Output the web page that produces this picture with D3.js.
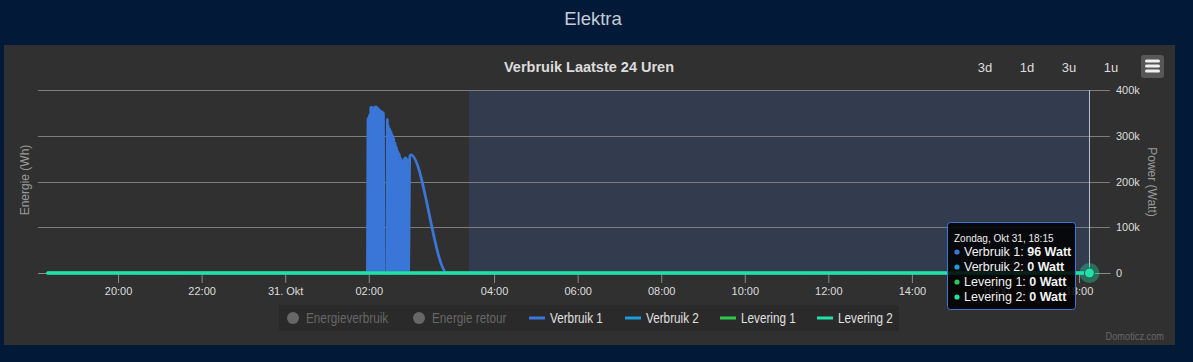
<!DOCTYPE html>
<html><head><meta charset="utf-8">
<script src="https://cdn.jsdelivr.net/npm/d3@7"></script>
<style>
html,body{margin:0;padding:0;background:#021938;}
svg{display:block;font-family:"Liberation Sans",Arial,sans-serif;}
</style></head><body>
<svg id="chart" width="1193" height="362"></svg>
<script>
// ---------- data ----------
const pageTitle = "Elektra";
const chartTitle = "Verbruik Laatste 24 Uren";
const rangeButtons = ["3d", "1d", "3u", "1u"];
const leftAxisTitle = "Energie (Wh)";
const rightAxisTitle = "Power (Watt)";
const credits = "Domoticz.com";

const xDomain = ["2021-10-30T16:05:00Z", "2021-10-31T17:44:30Z"];
const xTickTimes = ["2021-10-30T18:00:00Z", "2021-10-30T20:00:00Z", "2021-10-30T22:00:00Z",
  "2021-10-31T00:00:00Z", "2021-10-31T03:00:00Z", "2021-10-31T05:00:00Z", "2021-10-31T07:00:00Z",
  "2021-10-31T09:00:00Z", "2021-10-31T11:00:00Z", "2021-10-31T13:00:00Z", "2021-10-31T15:00:00Z",
  "2021-10-31T17:00:00Z"];
const xTickLabels = ["20:00", "22:00", "31. Okt", "02:00", "04:00", "06:00", "08:00",
  "10:00", "12:00", "14:00", "16:00", "18:00"];

const yTickValues = [0, 100000, 200000, 300000, 400000];
const yTickLabels = ["0", "100k", "200k", "300k", "400k"];

const hiddenSeries = ["Energieverbruik", "Energie retour"];
const seriesNames = ["Verbruik 1", "Verbruik 2", "Levering 1", "Levering 2"];
const seriesColors = ["#3a76d8", "#1c9ddb", "#2ccb4f", "#1fe2a8"];

// time in minutes relative to 2021-10-31 00:00 UTC, value in Watt
const baseTime = "2021-10-31T00:00:00Z";
const verbruik1 = [
  [-461, 110], [-2, 0],
  [-1, 338000], [0, 0], [1, 345000], [2, 0], [3, 362000], [4, 0], [5, 362000], [6, 0],
  [7, 358000], [8, 0], [9, 363000], [10, 0], [11, 363000], [12, 0], [13, 360000], [14, 0],
  [15, 357000], [16, 0], [17, 354000], [18, 0], [19, 352000], [20, 0], [21, 350000],
  [21.7, 0], [26, 0],
  [26.7, 336000], [27.5, 0], [28, 322000], [29, 0], [30, 315000], [31, 0], [32, 309000], [33, 0],
  [34, 302000], [35, 0], [36, 294000], [37, 0], [38, 284000], [39, 0], [40, 275000], [41, 0],
  [42, 266000], [43, 0], [44, 260000], [45, 0], [46, 251000], [47, 0], [48, 241000], [49, 0],
  [50, 248000], [51, 0], [52, 252000], [53, 0], [54, 251000], [55, 0], [56, 247000], [57, 0],
  [59, 256000], [60.5, 258000], [113, 0], [1035, 96]
];
const verbruik2 = [[-461, 0], [1035, 0]];
const levering1 = [[-461, 0], [1035, 0]];
const levering2 = [[-461, 0], [1035, 0]];

const plotBandMinutes = [144, 1035];
const hoverMinute = 1035;
const tooltipHeader = "Zondag, Okt 31, 18:15";
const tooltipValues = ["96 Watt", "0 Watt", "0 Watt", "0 Watt"];

// ---------- drawing ----------
const svg = d3.select("#chart");
const plot = {left: 38, right: 1110, top: 90, bottom: 273};
const base = new Date(baseTime).getTime();
const toDate = m => new Date(base + m * 60000);

const x = d3.scaleUtc().domain(xDomain.map(d => new Date(d))).range([plot.left, plot.right]);
const y = d3.scaleLinear().domain([0, 400000]).range([plot.bottom, plot.top]);

// page title
svg.append("text").attr("x", 593).attr("y", 25).attr("text-anchor", "middle")
  .attr("fill", "#c4ccd8").style("font-size", "18.5px").text(pageTitle);

// panel
svg.append("rect").attr("x", 4).attr("y", 45).attr("width", 1171).attr("height", 300).attr("fill", "#303030");

// chart title
svg.append("text").attr("x", 589).attr("y", 72).attr("text-anchor", "middle")
  .attr("fill", "#dcdcdc").style("font-size", "14.5px").style("font-weight", "bold").text(chartTitle);

// range buttons
const btnX = [985, 1027, 1069, 1111];
rangeButtons.forEach((b, i) => {
  svg.append("text").attr("x", btnX[i]).attr("y", 72).attr("text-anchor", "middle")
    .attr("fill", "#dddddd").style("font-size", "13px").text(b);
});
// menu button
svg.append("rect").attr("x", 1141).attr("y", 55).attr("width", 23).attr("height", 23).attr("rx", 3).attr("fill", "#575757");
[61, 66, 71].forEach(yy => {
  svg.append("rect").attr("x", 1145).attr("y", yy - 1.5).attr("width", 15).attr("height", 3).attr("rx", 1.5).attr("fill", "#f0f0f0");
});

// plot band
svg.append("rect")
  .attr("x", x(toDate(plotBandMinutes[0]))).attr("y", plot.top)
  .attr("width", x(toDate(plotBandMinutes[1])) - x(toDate(plotBandMinutes[0])))
  .attr("height", plot.bottom - plot.top).attr("fill", "#333b4f");

// gridlines
svg.append("g").selectAll("line").data(yTickValues).join("line")
  .attr("x1", plot.left).attr("x2", plot.right)
  .attr("y1", d => Math.round(y(d)) + 0.5).attr("y2", d => Math.round(y(d)) + 0.5)
  .attr("stroke", "#7c7c7c").attr("stroke-width", 1);

// right axis labels
const yAxis = d3.axisRight(y).tickValues(yTickValues).tickFormat((d, i) => yTickLabels[i]).tickSize(0).tickPadding(6);
const gy = svg.append("g").attr("transform", `translate(${plot.right},0)`).call(yAxis);
gy.select(".domain").remove();
gy.selectAll("text").attr("fill", "#dddddd").style("font-size", "11px").style("font-family", "Liberation Sans, Arial");

// x axis
const xAxis = d3.axisBottom(x).tickValues(xTickTimes.map(d => new Date(d)))
  .tickFormat((d, i) => xTickLabels[i]).tickSize(10).tickSizeOuter(0).tickPadding(4);
const gx = svg.append("g").attr("transform", `translate(0,${plot.bottom})`).call(xAxis);
gx.select(".domain").attr("stroke", "#8a8a8a");
gx.selectAll(".tick line").attr("stroke", "#8a8a8a");
gx.selectAll("text").attr("fill", "#dddddd").style("font-size", "11px").style("font-family", "Liberation Sans, Arial");

// axis titles
svg.append("text").attr("transform", "translate(29,180) rotate(-90)").attr("text-anchor", "middle")
  .attr("fill", "#9a9a9a").style("font-size", "12px").text(leftAxisTitle);
svg.append("text").attr("transform", "translate(1148,182) rotate(90)").attr("text-anchor", "middle")
  .attr("fill", "#9a9a9a").style("font-size", "12px").text(rightAxisTitle);

// series
const line = d3.line().x(d => x(toDate(d[0]))).y(d => y(d[1])).curve(d3.curveMonotoneX);
[verbruik1, verbruik2, levering1, levering2].forEach((data, i) => {
  svg.append("path").datum(data).attr("d", line).attr("fill", "none")
    .attr("stroke", seriesColors[i]).attr("stroke-width", i === 0 ? 2.8 : 3)
    .attr("stroke-linejoin", "round").attr("stroke-linecap", "round");
});

// crosshair
const hx = Math.round(x(toDate(hoverMinute))) + 0.5;
svg.append("line").attr("x1", hx).attr("x2", hx).attr("y1", plot.top).attr("y2", plot.bottom)
  .attr("stroke", "#b4bfd8").attr("stroke-width", 1);

// hover marker
svg.append("circle").attr("cx", x(toDate(hoverMinute))).attr("cy", y(0)).attr("r", 10)
  .attr("fill", seriesColors[3]).attr("opacity", 0.35);
svg.append("circle").attr("cx", x(toDate(hoverMinute))).attr("cy", y(0)).attr("r", 5)
  .attr("fill", seriesColors[3]).attr("stroke", "#2a5a50").attr("stroke-width", 1);

// legend (condensed look via horizontal scale)
const lg = svg.append("g").style("font-size", "14px");
lg.append("rect").attr("x", 279).attr("y", 305).attr("width", 620).attr("height", 26).attr("fill", "#2a2a2a");
const legendX = [285, 411, 529, 625, 720, 817];
const legendY = 318;
const squeeze = 0.84;
hiddenSeries.forEach((n, i) => {
  lg.append("circle").attr("cx", legendX[i] + 8).attr("cy", legendY).attr("r", 6).attr("fill", "#676767");
  lg.append("text").attr("transform", `translate(${legendX[i] + 21},${legendY + 5}) scale(${squeeze},1)`)
    .attr("fill", "#676767").text(n);
});
seriesNames.forEach((n, i) => {
  const lx = legendX[i + 2];
  lg.append("line").attr("x1", lx).attr("x2", lx + 16).attr("y1", legendY).attr("y2", legendY)
    .attr("stroke", seriesColors[i]).attr("stroke-width", 3);
  lg.append("text").attr("transform", `translate(${lx + 21},${legendY + 5}) scale(${squeeze},1)`)
    .attr("fill", "#e0e0e0").text(n);
});

// credits
svg.append("text").attr("transform", `translate(1164,340) scale(${squeeze},1)`).attr("text-anchor", "end")
  .attr("fill", "#686868").style("font-size", "11px").text(credits);

// tooltip
const tt = svg.append("g").attr("transform", "translate(947,222)");
tt.append("rect").attr("x", 0.5).attr("y", 0.5).attr("width", 128).attr("height", 87).attr("rx", 3)
  .attr("fill", "rgba(0,0,0,0.86)").attr("stroke", seriesColors[0]).attr("stroke-width", 1);
tt.append("text").attr("x", 7).attr("y", 20).attr("fill", "#eeeeee").style("font-size", "10px").text(tooltipHeader);
seriesNames.forEach((n, i) => {
  const ry = 34 + i * 15;
  tt.append("circle").attr("cx", 10).attr("cy", ry - 4).attr("r", 2.6).attr("fill", seriesColors[i]);
  const t = tt.append("text").attr("x", 17).attr("y", ry).attr("fill", "#f2f2f2").style("font-size", "12.5px");
  t.append("tspan").text(n + ": ");
  t.append("tspan").style("font-weight", "bold").text(tooltipValues[i]);
});
</script>
</body></html>
